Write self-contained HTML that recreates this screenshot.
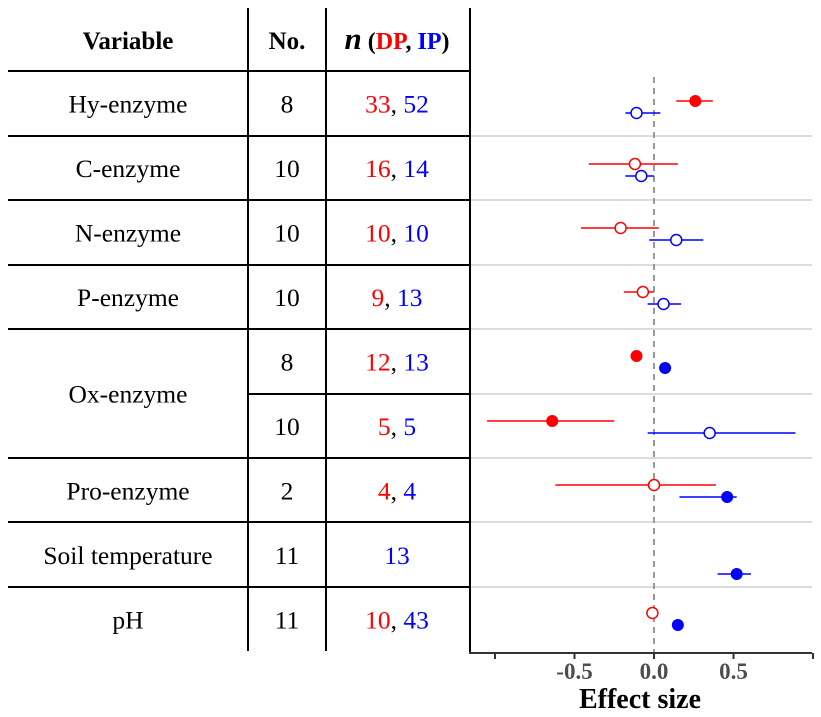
<!DOCTYPE html>
<html><head><meta charset="utf-8"><style>
html,body{margin:0;padding:0;background:#fff}
svg{display:block;font-family:"Liberation Serif",serif}
</style></head><body>
<svg id="chart" width="821" height="717" viewBox="0 0 821 717">
<g id="table"></g>
<g id="plot"></g>
</svg>
<script>
const variables = ["Hy-enzyme","C-enzyme","N-enzyme","P-enzyme","Ox-enzyme","Ox-enzyme","Pro-enzyme","Soil temperature","pH"];
const studyNo = ["8","10","10","10","8","10","2","11","11"];
const nDP = ["33","16","10","9","12","5","4","","10"];
const nIP = ["52","14","10","13","13","5","4","13","43"];
const dpEst = [0.26,-0.12,-0.21,-0.07,-0.11,-0.64,0.0,null,-0.01];
const dpLo  = [0.14,-0.41,-0.46,-0.19,-0.13,-1.05,-0.62,null,-0.02];
const dpHi  = [0.37,0.15,0.03,0.0,-0.09,-0.25,0.39,null,0.0];
const dpSig = [true,false,false,false,true,true,false,null,false];
const ipEst = [-0.11,-0.08,0.14,0.06,0.07,0.35,0.46,0.52,0.15];
const ipLo  = [-0.18,-0.18,-0.03,-0.04,0.05,-0.04,0.16,0.40,0.13];
const ipHi  = [0.04,0.0,0.31,0.17,0.09,0.89,0.52,0.61,0.17];
const ipSig = [false,false,false,false,true,false,true,true,true];
const xTicks = [-1,-0.5,0,0.5,1];
const xTickLabels = ["","-0.5","0.0","0.5",""];

const NS="http://www.w3.org/2000/svg";
function mk(tag,attrs,parent){const e=document.createElementNS(NS,tag);for(const k in attrs)e.setAttribute(k,attrs[k]);parent.appendChild(e);return e;}
const xS = v => 654 + v*159;
const rowTop = 71, rowH = 64.5;
const rowMid = i => rowTop + rowH*i + rowH/2;
const tbl=document.getElementById('table'), plot=document.getElementById('plot');

let t=mk('text',{x:128,y:49,'text-anchor':'middle','font-size':25,'font-weight':'bold'},tbl);t.textContent='Variable';

t=mk('text',{x:287,y:49,'text-anchor':'middle','font-size':25,'font-weight':'bold'},tbl);t.textContent='No.';

t=mk('text',{x:397,y:49,'text-anchor':'middle','font-size':24,'font-weight':'bold'},tbl);

t.innerHTML='<tspan font-style="italic" font-size="31">n</tspan> (<tspan fill="#ff0000">DP</tspan>, <tspan fill="#0000ff">IP</tspan>)';

let l=mk('line',{x1:248,y1:8,x2:248,y2:651,stroke:'#000','stroke-width':2},tbl);

l=mk('line',{x1:326,y1:8,x2:326,y2:651,stroke:'#000','stroke-width':2},tbl);

const hl=[71,136,200,265,329,394,458,522,587];
hl.forEach((y,i)=>{
  const x1 = (i===5)?248:8;
  const ln=mk('line',{x1:x1,y1:y,x2:470,y2:y,stroke:'#000','stroke-width':2},tbl);
  
  
  if(i>0){const g=mk('line',{x1:471,y1:y,x2:812,y2:y,stroke:'#dcdcdc','stroke-width':2},plot);
  
  }
});

const rowY=[101,164,228,292,356,421,485,562,613];
variables.forEach((v,i)=>{
  const cy=rowMid(i)+9;
  if(i!==5){
    const vy = i===4 ? rowMid(4)+rowH/2+9 : cy;
    const tv=mk('text',{x:128,y:vy,'text-anchor':'middle','font-size':25.5},tbl);tv.textContent=v;
    
    
  }
  const tn=mk('text',{x:287,y:cy,'text-anchor':'middle','font-size':25.5},tbl);tn.textContent=studyNo[i];
  
  
  const tc=mk('text',{x:397,y:cy,'text-anchor':'middle','font-size':25.5},tbl);
  
  
  tc.innerHTML = (i===7) ? '<tspan fill="#0000ff">'+nIP[i]+'</tspan>' :
    '<tspan fill="#ff0000">'+nDP[i]+'</tspan>, <tspan fill="#0000ff">'+nIP[i]+'</tspan>';
});

l=mk('line',{x1:470,y1:8,x2:470,y2:653,stroke:'#000','stroke-width':2},plot);

l=mk('line',{x1:469,y1:653,x2:812,y2:653,stroke:'#333','stroke-width':2},plot);

l=mk('line',{x1:xS(0),y1:77,x2:xS(0),y2:652,stroke:'#999','stroke-width':2,'stroke-dasharray':'6,5'},plot);

xTicks.forEach((v,i)=>{
  const tk=mk('line',{x1:xS(v),y1:653,x2:xS(v),y2:659,stroke:'#333','stroke-width':2},plot);
  
  
  if(xTickLabels[i]){const tl=mk('text',{x:xS(v),y:679,'text-anchor':'middle','font-size':23,'font-weight':'bold',fill:'#4d4d4d'},plot);
  tl.textContent=xTickLabels[i];
  
  }
});
t=mk('text',{x:xS(0)-14,y:708,'text-anchor':'middle','font-size':28,'font-weight':'bold'},plot);t.textContent='Effect size';


function drawPt(est,lo,hi,sig,y,color,name){
  if(est===null)return;
  const ln=mk('line',{x1:xS(lo),y1:y,x2:xS(hi),y2:y,stroke:color,'stroke-width':1.6},plot);
  
  
  const c=mk('circle',{cx:xS(est),cy:y,r:5.5,fill:sig?color:'#fff',stroke:color,'stroke-width':sig?1:1.5},plot);
  
  
}
variables.forEach((v,i)=>{
  drawPt(dpEst[i],dpLo[i],dpHi[i],dpSig[i],rowY[i],'#ff0000','dp');
  drawPt(ipEst[i],ipLo[i],ipHi[i],ipSig[i],rowY[i]+12,'#0000ff','ip');
});
</script>
</body></html>
